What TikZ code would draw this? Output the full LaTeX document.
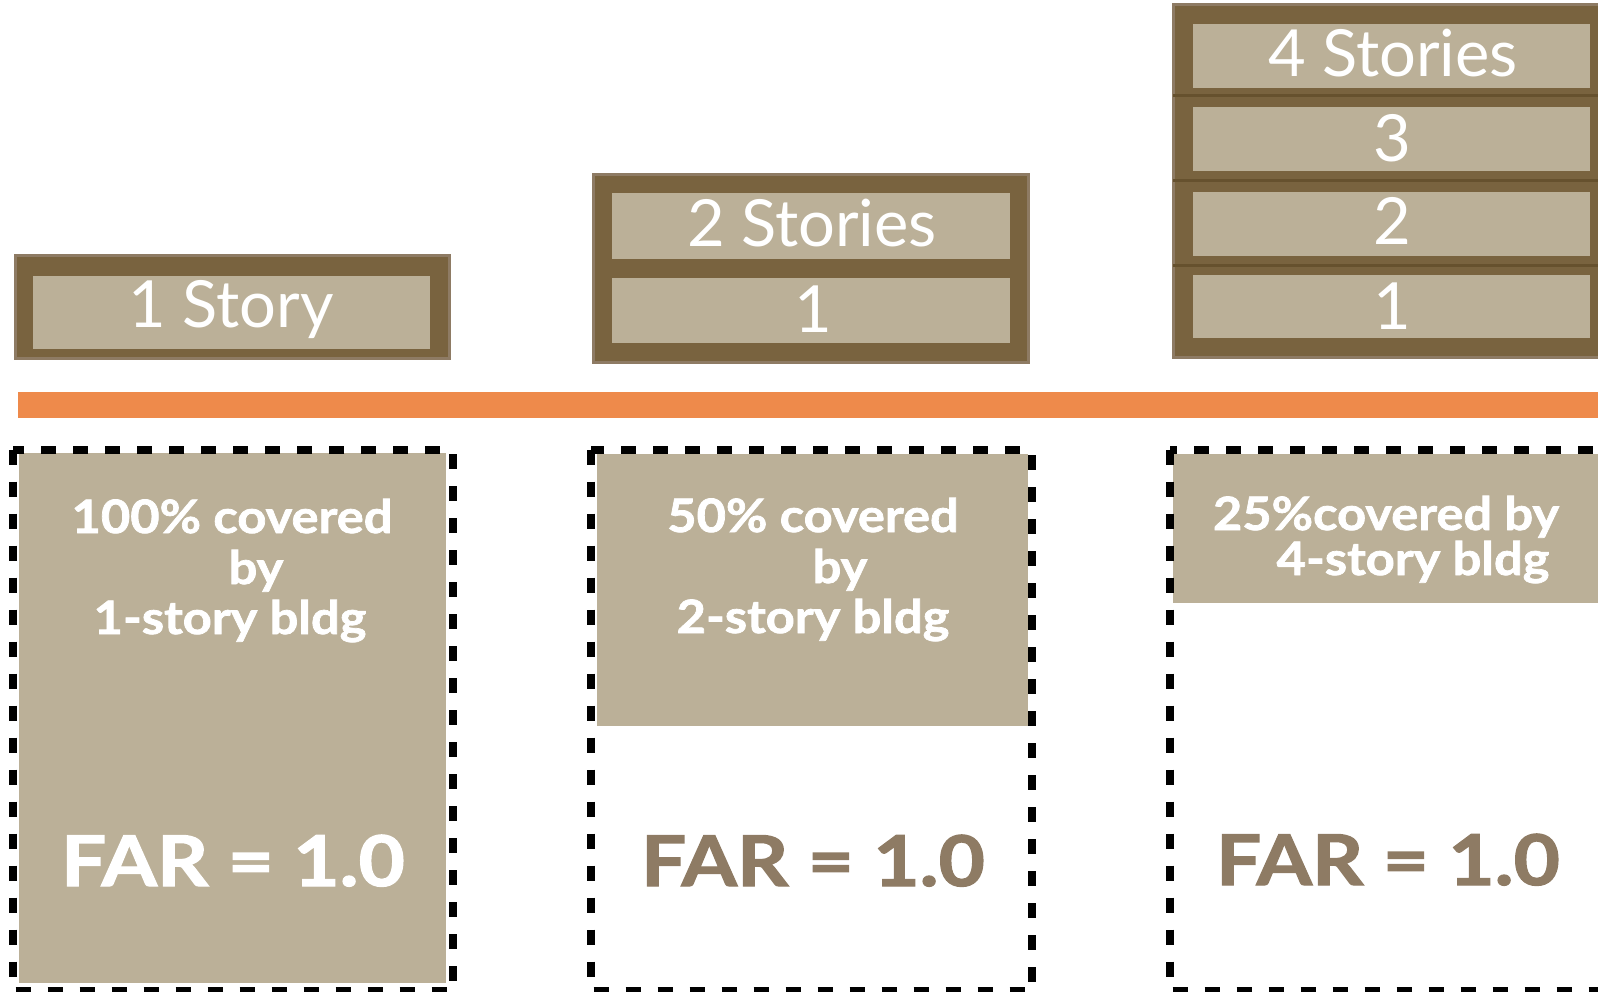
\documentclass[tikz,border=0pt]{standalone}
\usepackage{fontspec}
\setmainfont{Lato}
\newfontfamily\widebold[FakeStretch=1.1, FakeBold=1.6]{Lato}
\newfontfamily\farbold[FakeStretch=1.14, FakeBold=1.8]{Lato}
\begin{document}
\definecolor{frame}{HTML}{79633F}
\definecolor{rim}{HTML}{8E7B64}
\definecolor{tan}{HTML}{BBB098}
\definecolor{seam}{HTML}{66512E}
\definecolor{orangebar}{HTML}{EE8A4B}
\begin{tikzpicture}[x=1pt, y=-1pt,
  storyframe/.style={fill=frame, draw=rim, line width=3pt},
  floorslab/.style={fill=tan},
  seamline/.style={draw=seam, line width=3pt},
  lotline/.style={draw=black, line width=8pt, dash pattern=on 15pt off 17pt},
  coverage/.style={fill=tan},
  floorlabel/.style={text=white, inner sep=0pt, anchor=base, font=\fontsize{65}{78}\selectfont},
  covtext/.style={text=white, inner sep=0pt, anchor=base, font=\widebold\bfseries\fontsize{46}{51}\selectfont},
  fartext/.style={inner sep=0pt, anchor=base, font=\farbold\bfseries\fontsize{70}{84}\selectfont}]
\useasboundingbox (0,0) rectangle (1598,992);
\clip (0,0) rectangle (1598,992);

% one-story building
\draw[storyframe] (15,256) rectangle (449,358);
\fill[floorslab] (33,276) rectangle (430,349);
\node[floorlabel] (s1) at (231,327) {1 Story};

% two-story building
\draw[storyframe] (593,175) rectangle (1028,362);
\fill[floorslab] (612,193) rectangle (1010,259);
\fill[floorslab] (612,278) rectangle (1010,343);
\node[floorlabel] (s2top) at (812,247) {2 Stories};
\node[floorlabel] (s2one) at (813,332) {1};

% four-story building
\draw[storyframe] (1173,5) rectangle (1620,357);
\fill[floorslab] (1193,24) rectangle (1590,88);
\fill[floorslab] (1193,107) rectangle (1590,171);
\fill[floorslab] (1193,192) rectangle (1590,256);
\fill[floorslab] (1193,275) rectangle (1590,338);
\draw[seamline] (1173,96) -- (1620,96);
\draw[seamline] (1173,181) -- (1620,181);
\draw[seamline] (1173,266) -- (1620,266);
\node[floorlabel] (s4top) at (1393,77) {4 Stories};
\node[floorlabel] (s4three) at (1392,162) {3};
\node[floorlabel] (s4two) at (1392,245) {2};
\node[floorlabel] (s4one) at (1392,330) {1};

% ground line
\fill[orangebar] (18,392) rectangle (1620,418);

% lots and their coverage
\fill[coverage] (19,453) rectangle (446,983);
\draw[lotline] (13,449.5) rectangle (453,991);
\fill[coverage] (597,454) rectangle (1028,726);
\draw[lotline] (591,449.5) rectangle (1032,991);
\fill[coverage] (1173,454) rectangle (1620,603);
\draw[lotline] (1170,449.5) rectangle (1640,991);

\node[covtext] (c1a) at (232,533) {100\% covered};
\node[covtext] (c1b) at (256,584) {by};
\node[covtext] (c1c) at (230,634) {1-story bldg};
\node[fartext, text=white] (far1) at (233,886) {FAR = 1.0};

\node[covtext] (c2a) at (813,532) {50\% covered};
\node[covtext] (c2b) at (840,583) {by};
\node[covtext] (c2c) at (813,633) {2-story bldg};
\node[fartext, text=rim] (far2) at (813,886) {FAR = 1.0};

\node[covtext] (c3a) at (1386,530) {25\%covered by};
\node[covtext] (c3b) at (1413,575) {4-story bldg};
\node[fartext, text=rim] (far3) at (1388,885) {FAR = 1.0};
\end{tikzpicture}
\end{document}
